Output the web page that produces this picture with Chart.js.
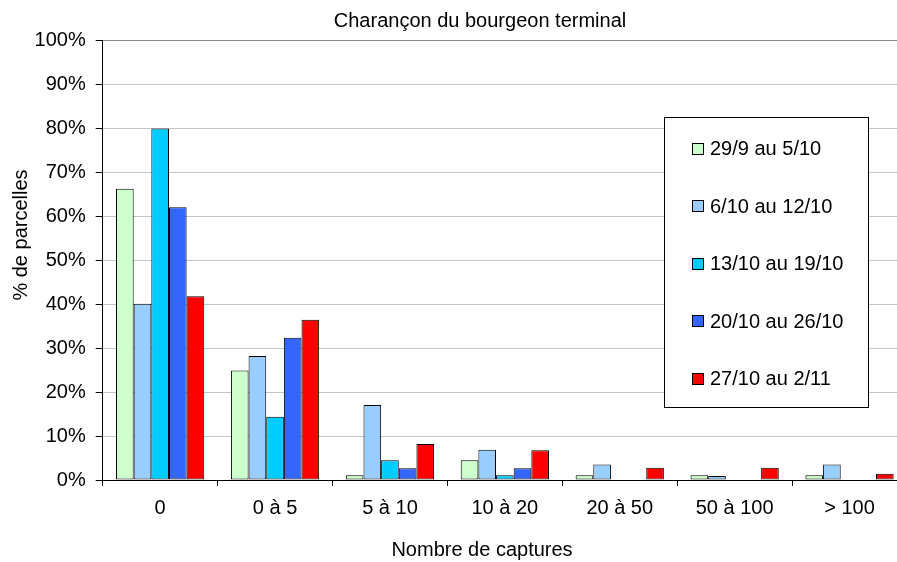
<!DOCTYPE html>
<html>
<head>
<meta charset="utf-8">
<script src="https://cdn.jsdelivr.net/npm/chart.js@4/dist/chart.umd.min.js"></script>
<style>
html,body{margin:0;padding:0;background:#fff;overflow:hidden;width:897px;height:562px;}
canvas{display:block;}
</style>
</head>
<body>
<canvas id="c" width="912" height="562"></canvas>
<script>
const categories = ['0', '0 à 5', '5 à 10', '10 à 20', '20 à 50', '50 à 100', '> 100'];
const seriesLabels = ['29/9 au 5/10', '6/10 au 12/10', '13/10 au 19/10', '20/10 au 26/10', '27/10 au 2/11'];
const s1 = [66.3, 24.9, 1.1, 4.5, 1.1, 1.1, 1.1];
const s2 = [40.1, 28.2, 17.1, 6.9, 3.5, 0.9, 3.5];
const s3 = [80.0, 14.4, 4.5, 1.1, 0, 0, 0];
const s4 = [62.1, 32.4, 2.7, 2.7, 0, 0, 0];
const s5 = [41.8, 36.5, 8.2, 6.8, 2.8, 2.8, 1.4];
const yTicks = [0, 10, 20, 30, 40, 50, 60, 70, 80, 90, 100];
const chartTitle = 'Charançon du bourgeon terminal';
const xTitle = 'Nombre de captures';
const yTitle = '% de parcelles';

const colors = ['#CCFFCC', '#99CCFF', '#00CCFF', '#3366FF', '#FF0000'];
const FONT = '"Liberation Sans", Arial, sans-serif';

const seriesData = [s1, s2, s3, s4, s5];
const datasets = seriesData.map((d, i) => ({
  label: seriesLabels[i],
  data: d,
  backgroundColor: colors[i],
  borderColor: '#000',
  borderWidth: 1,
  borderSkipped: false,
  categoryPercentage: 0.768,
  barPercentage: 1.0
}));

const textPlugin = {
  id: 'texts',
  afterDraw(chart) {
    const ctx = chart.ctx;
    ctx.save();
    ctx.fillStyle = '#000';
    ctx.font = '20px ' + FONT;
    ctx.textAlign = 'center';
    ctx.textBaseline = 'alphabetic';
    ctx.fillText(chartTitle, 480, 26.5);
    ctx.fillText(xTitle, 482, 555.5);
    ctx.translate(27, 235);
    ctx.rotate(-Math.PI / 2);
    ctx.fillText(yTitle, 0, 0);
    ctx.restore();

    // legend box
    ctx.save();
    const bx = 664.5, by = 117.5, bw = 204, bh = 290;
    ctx.fillStyle = '#fff';
    ctx.fillRect(bx, by, bw, bh);
    ctx.strokeStyle = '#000';
    ctx.lineWidth = 1;
    ctx.strokeRect(bx, by, bw, bh);
    ctx.font = '20px ' + FONT;
    ctx.textAlign = 'left';
    ctx.textBaseline = 'middle';
    chart.data.datasets.forEach((ds, i) => {
      const cy = 148.5 + i * 57.5;
      ctx.fillStyle = ds.backgroundColor;
      ctx.fillRect(692.5, Math.round(cy) - 5.5, 11, 11);
      ctx.strokeStyle = '#000';
      ctx.strokeRect(692.5, Math.round(cy) - 5.5, 11, 11);
      ctx.fillStyle = '#000';
      ctx.fillText(ds.label, 710, cy + 1);
    });
    ctx.restore();
  }
};

new Chart(document.getElementById('c'), {
  type: 'bar',
  data: { labels: categories, datasets },
  options: {
    responsive: false,
    animation: false,
    devicePixelRatio: 1,
    layout: { padding: { top: 40.7, right: 5, left: 0, bottom: 0 } },
    plugins: { legend: { display: false }, tooltip: { enabled: false }, title: { display: false } },
    scales: {
      x: {
        afterFit(s) { s.height = 82; },
        grid: { offset: true, drawOnChartArea: false, drawTicks: true, tickLength: 6, tickColor: '#000', tickWidth: 1 },
        border: { color: '#000', width: 1 },
        ticks: { color: '#000', font: { family: FONT, size: 20 }, padding: 10, maxRotation: 0, autoSkip: false }
      },
      y: {
        min: 0, max: 100,
        afterFit(s) { s.width = 102.7; },
        afterBuildTicks(s) { s.ticks = yTicks.map(v => ({ value: v })); },
        grid: {
          color: (c) => (c.tick && c.tick.value === 100) ? '#8a8a8a' : '#c4c4c4',
          lineWidth: 1,
          drawTicks: true, tickLength: 7, tickColor: '#000'
        },
        border: { color: '#000', width: 1 },
        ticks: { color: '#000', font: { family: FONT, size: 20 }, padding: 10, callback: (v) => v + '%' }
      }
    }
  },
  plugins: [textPlugin]
});
</script>
</body>
</html>
